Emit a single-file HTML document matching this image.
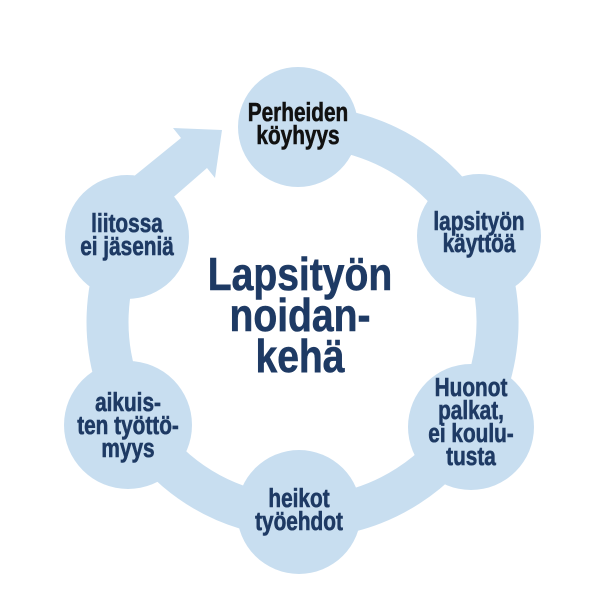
<!DOCTYPE html>
<html><head><meta charset="utf-8"><style>
html,body{margin:0;padding:0;background:#fff;}
svg{display:block}
text{font-family:"Liberation Sans",sans-serif;font-weight:bold;text-anchor:middle;fill:#1e3a64;stroke:#1e3a64;stroke-width:0.6;}
</style></head><body>
<svg width="600" height="600" viewBox="0 0 600 600">
<g fill="#c8def0" stroke="none">
<path d="M298 127 A195 195 0 1 1 127 237" fill="none" stroke="#c8def0" stroke-width="42"/>
<path d="M222 130 L215 178 L207 168 L145 222 L117 190 L181 138 L173 128 Z"/>
<circle cx="298" cy="127" r="60"/>
<circle cx="479" cy="236" r="62"/>
<circle cx="471" cy="427" r="63"/>
<circle cx="299" cy="512" r="62"/>
<circle cx="128" cy="425" r="64"/>
<circle cx="127" cy="237" r="62"/>
</g>
<g font-size="26">
<g transform="translate(298 0) scale(0.8 1)">
<text x="0" y="121" style="fill:#111;stroke:#111">Perheiden</text>
<text x="0" y="144" style="fill:#111;stroke:#111">köyhyys</text>
</g>
<g transform="translate(479 0) scale(0.8 1)">
<text x="0" y="230">lapsityön</text>
<text x="0" y="252">käyttöä</text>
</g>
<g transform="translate(471 0) scale(0.8 1)">
<text x="0" y="396">Huonot</text>
<text x="0" y="419">palkat,</text>
<text x="0" y="442">ei koulu-</text>
<text x="0" y="465">tusta</text>
</g>
<g transform="translate(299 0) scale(0.8 1)">
<text x="0" y="507">heikot</text>
<text x="0" y="530">työehdot</text>
</g>
<g transform="translate(128 0) scale(0.8 1)">
<text x="0" y="411">aikuis-</text>
<text x="0" y="434">ten työttö-</text>
<text x="0" y="457">myys</text>
</g>
<g transform="translate(127 0) scale(0.8 1)">
<text x="0" y="232">liitossa</text>
<text x="0" y="255">ei jäseniä</text>
</g>
</g>
<g transform="translate(300 0) scale(0.85 1)" font-size="46">
<text x="0" y="290">Lapsityön</text>
<text x="0" y="331">noidan-</text>
<text x="0" y="372">kehä</text>
</g>
</svg>
</body></html>
